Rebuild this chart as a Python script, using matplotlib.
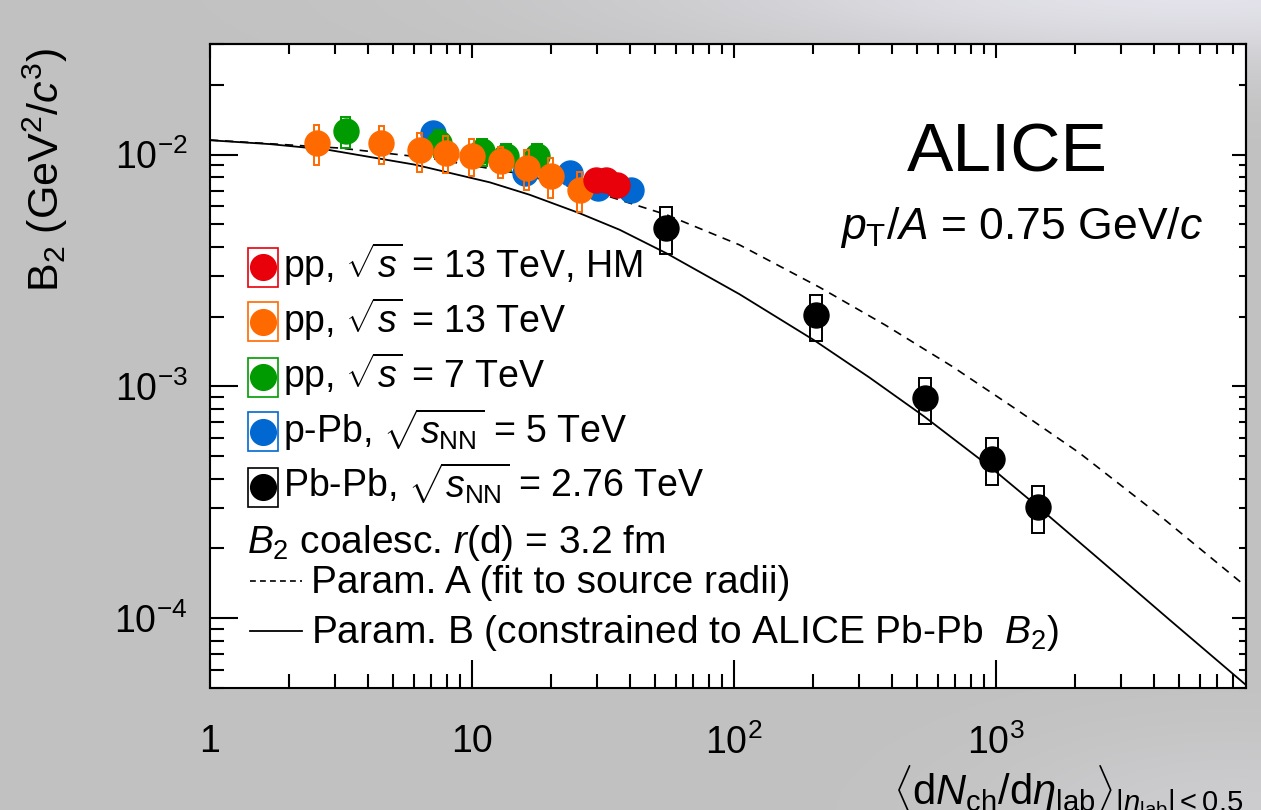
import numpy as np
import matplotlib
matplotlib.use("Agg")
import matplotlib.pyplot as plt
from matplotlib.patches import Rectangle
from matplotlib import font_manager
from matplotlib.ticker import FixedLocator, FixedFormatter, NullFormatter

# ---------------- data ----------------
# Pb-Pb, sqrt(s_NN) = 2.76 TeV
pbpb_x = [55.0, 205.0, 537.0, 966.0, 1447.0]
pbpb_y = [4.83e-3, 2.03e-3, 8.87e-4, 4.88e-4, 3.02e-4]
pbpb_sys = [1.10e-3, 0.46e-3, 2.0e-4, 1.12e-4, 0.70e-4]

# pp, sqrt(s) = 13 TeV
pp13_x = [2.55, 4.50, 6.32, 7.95, 10.0, 12.9, 16.2, 20.0, 25.8]
pp13_y = [1.124e-2, 1.124e-2, 1.044e-2, 1.017e-2, 0.990e-2, 0.935e-2, 0.876e-2, 0.811e-2, 0.703e-2]
pp13_sys = [0.22e-2, 0.21e-2, 0.20e-2, 0.18e-2, 0.18e-2, 0.14e-2, 0.17e-2, 0.16e-2, 0.135e-2]

# pp, sqrt(s) = 7 TeV
pp7_x = [3.29, 7.5, 10.9, 13.5, 17.7]
pp7_y = [1.261e-2, 1.124e-2, 1.033e-2, 0.983e-2, 0.983e-2]
pp7_sys = [0.19e-2, 0.15e-2, 0.14e-2, 0.13e-2, 0.13e-2]

# p-Pb, sqrt(s_NN) = 5 TeV
ppb_x = [7.08, 15.9, 23.6, 30.2, 40.6]
ppb_y = [1.242e-2, 0.836e-2, 0.833e-2, 0.72e-2, 0.706e-2]
ppb_sys = [0.12e-2, 0.08e-2, 0.08e-2, 0.07e-2, 0.07e-2]

# pp, sqrt(s) = 13 TeV, high multiplicity
pphm_x = [29.8, 32.5, 35.7]
pphm_y = [0.779e-2, 0.779e-2, 0.742e-2]
pphm_sys = [0.05e-2, 0.05e-2, 0.05e-2]

# coalescence curves, r(d) = 3.2 fm
paramA_x = [1.0, 3.13, 6.90, 15.2, 32.6, 55.3, 104.9, 211.7, 377.7, 680.1, 1182.0,
            2074.0, 4186.0, 9000.0]
paramA_y = [1.156e-2, 1.067e-2, 0.966e-2, 0.827e-2, 0.665e-2, 0.550e-2, 4.08e-3, 2.68e-3,
            1.84e-3, 1.22e-3, 8.03e-4, 5.18e-4, 2.79e-4, 1.37e-4]
paramB_x = [1.0, 1.69, 2.79, 6.05, 11.7, 16.6, 25.7, 36.6, 55.3, 104.9, 202.6, 328.2,
            531.9, 957.8, 1434.0, 2473.0, 4570.0, 9000.0]
paramB_y = [1.153e-2, 1.110e-2, 1.051e-2, 0.905e-2, 0.759e-2, 0.671e-2, 0.559e-2, 0.474e-2,
            0.375e-2, 2.50e-3, 1.58e-3, 1.094e-3, 7.42e-4, 4.46e-4, 3.05e-4, 1.80e-4,
            9.90e-5, 5.15e-5]

xtick_vals = [1, 10, 100, 1000]
xtick_labels = ["1", "10", "$10^{2}$", "$10^{3}$"]
ytick_vals = [1e-4, 1e-3, 1e-2]
ytick_labels = ["$10^{-4}$", "$10^{-3}$", "$10^{-2}$"]

RED, ORANGE, GREEN, BLUE, BLACK = "#e8000b", "#ff6a00", "#009b00", "#0068d0", "#000000"

# ---------------- fonts ----------------
available = {f.name for f in font_manager.fontManager.ttflist}
SANS = "Liberation Sans" if "Liberation Sans" in available else "DejaVu Sans"
NARROW = "Liberation Sans Narrow" if "Liberation Sans Narrow" in available else SANS
plt.rcParams["font.family"] = [SANS, "DejaVu Sans"]
plt.rcParams["mathtext.fontset"] = "custom"
plt.rcParams["mathtext.rm"] = SANS
plt.rcParams["mathtext.it"] = SANS + ":italic"
plt.rcParams["mathtext.bf"] = SANS + ":bold"
plt.rcParams["mathtext.sf"] = SANS

W, H = 1261, 810
fig = plt.figure(figsize=(W / 100, H / 100), dpi=100)

# slide background: grey with a pale lavender glow toward the top right
bg = fig.add_axes([0, 0, 1, 1], zorder=-10)
gx, gy = np.meshgrid(np.linspace(0, 1, 252), np.linspace(1, 0, 162))
glow = np.exp(-(((gx - 0.95) / 0.42) ** 2 + ((gy - 1.02) / 0.10) ** 2))
glow2 = 0.35 * np.exp(-(((gx - 0.98) / 0.20) ** 2 + ((gy + 0.02) / 0.12) ** 2))
base = np.array([0.757, 0.757, 0.757])
light = np.array([0.895, 0.893, 0.925])
w = np.clip(glow + glow2, 0, 1)[..., None]
img = base * (1 - w) + light * w
bg.imshow(img, aspect="auto", extent=[0, 1, 0, 1], interpolation="bicubic")
bg.set_axis_off()

L, R, T, B = 210, 1246, 44, 688
ax = fig.add_axes([L / W, 1 - B / H, (R - L) / W, (B - T) / H])
ax.set_xscale("log")
ax.set_yscale("log")
ax.set_xlim(1, 9000)
ax.set_ylim(5e-5, 3e-2)
ax.set_facecolor("white")
for s in ax.spines.values():
    s.set_linewidth(1.5)

# ---------------- curves ----------------
ax.plot(paramA_x, paramA_y, color="black", lw=1.2, ls=(0, (5, 4)), zorder=2)
ax.plot(paramB_x, paramB_y, color="black", lw=1.3, ls="-", zorder=2)


def draw_series(xs, ys, sys, color, half_w, z):
    f = 10 ** (half_w / 262.3)
    for x, y, e in zip(xs, ys, sys):
        ax.add_patch(Rectangle((x / f, y - e), x * f - x / f, 2 * e, fill=False,
                               edgecolor=color, lw=1.4, zorder=z))
    ax.plot(xs, ys, "o", ms=18, color=color, mec=color, zorder=z + 0.5)


draw_series(pbpb_x, pbpb_y, pbpb_sys, BLACK, 6.0, 3)
draw_series(ppb_x, ppb_y, ppb_sys, BLUE, 3.0, 4)
draw_series(pp7_x, pp7_y, pp7_sys, GREEN, 5.0, 5)
draw_series(pp13_x, pp13_y, pp13_sys, ORANGE, 2.5, 6)
draw_series(pphm_x, pphm_y, pphm_sys, RED, 3.0, 7)

# ---------------- axes / ticks ----------------
minor_x = [m * 10 ** d for d in range(0, 4) for m in range(2, 10) if m * 10 ** d < 9000]
minor_y = [m * 10 ** d for d in range(-5, -1) for m in range(2, 10) if 5e-5 <= m * 10 ** d <= 3e-2]
ax.xaxis.set_major_locator(FixedLocator(xtick_vals))
ax.xaxis.set_major_formatter(FixedFormatter(xtick_labels))
ax.xaxis.set_minor_locator(FixedLocator(minor_x))
ax.xaxis.set_minor_formatter(NullFormatter())
ax.yaxis.set_major_locator(FixedLocator(ytick_vals))
ax.yaxis.set_major_formatter(FixedFormatter(ytick_labels))
ax.yaxis.set_minor_locator(FixedLocator(minor_y))
ax.yaxis.set_minor_formatter(NullFormatter())
ax.tick_params(which="both", direction="in", width=1.5, labelsize=27, top=False, right=False)
ax.tick_params(which="major", length=20)
ax.tick_params(which="minor", length=10)
ax.tick_params(axis="x", which="major", pad=26)
ax.tick_params(axis="y", which="major", pad=16)

secx = ax.secondary_xaxis("top")
secx.xaxis.set_major_locator(FixedLocator(xtick_vals))
secx.xaxis.set_minor_locator(FixedLocator(minor_x))
secx.xaxis.set_major_formatter(NullFormatter())
secx.xaxis.set_minor_formatter(NullFormatter())
secx.tick_params(which="both", direction="in", width=1.5)
secx.tick_params(which="major", length=10)
secx.tick_params(which="minor", length=7)
secx.spines["top"].set_linewidth(1.5)

secy = ax.secondary_yaxis("right")
secy.yaxis.set_major_locator(FixedLocator(ytick_vals))
secy.yaxis.set_minor_locator(FixedLocator(minor_y))
secy.yaxis.set_major_formatter(NullFormatter())
secy.yaxis.set_minor_formatter(NullFormatter())
secy.tick_params(which="both", direction="in", width=1.5)
secy.tick_params(which="major", length=10)
secy.tick_params(which="minor", length=5)
secy.spines["right"].set_linewidth(1.5)

# axis titles
fig.text(45 / W, 1 - 170 / H, r"B$_{2}$ (GeV$^{2}$/$c^{3}$)", rotation=90,
         ha="center", va="center", fontsize=31)
fig.text(893 / W, 1 - 805 / H,
         r"$\langle$d$N_{\rm ch}$/d$\eta_{\rm lab}\rangle_{|\eta_{\rm lab}|<0.5}$",
         ha="left", va="baseline", fontsize=30)

# labels inside the frame
def afx(px):
    return (px - L) / (R - L)


def afy(py):
    return (B - py) / (B - T)


ax.text(afx(1007), afy(153), "ALICE", ha="center", va="center", fontsize=50,
        transform=ax.transAxes)
ax.text(afx(840), afy(239), r"$p_{\rm T}$/$A$ = 0.75 GeV/$c$", ha="left",
        va="baseline", fontsize=32, transform=ax.transAxes)

# ---------------- legend ----------------
entries = [
    (RED, r"pp, $\sqrt{s}$ = 13 TeV, HM"),
    (ORANGE, r"pp, $\sqrt{s}$ = 13 TeV"),
    (GREEN, r"pp, $\sqrt{s}$ = 7 TeV"),
    (BLUE, r"p-Pb, $\sqrt{s_{\rm NN}}$ = 5 TeV"),
    (BLACK, r"Pb-Pb, $\sqrt{s_{\rm NN}}$ = 2.76 TeV"),
]
row_c = [267, 321.7, 377, 431.7, 487]
for (col, label), yc in zip(entries, row_c):
    ax.add_patch(Rectangle((afx(248), afy(yc + 19.5)), afx(278) - afx(248),
                           afy(yc - 19.5) - afy(yc + 19.5), fill=False,
                           edgecolor=col, lw=1.2, transform=ax.transAxes, zorder=8))
    ax.plot([afx(263)], [afy(yc)], "o", ms=18.5, color=col, transform=ax.transAxes,
            zorder=9, clip_on=False)
    ax.text(afx(283), afy(yc + 11), label, ha="left", va="baseline", fontsize=27,
            transform=ax.transAxes, zorder=9)

note_font = [NARROW, "DejaVu Sans"]
ax.text(afx(247), afy(553), r"$B_{2}$ coalesc. $r$(d) = 3.2 fm", ha="left",
        va="baseline", fontsize=28, family=note_font, transform=ax.transAxes)
ax.plot([afx(250), afx(302)], [afy(581), afy(581)], color="black", lw=1.2,
        ls=(0, (3.5, 2.5)), transform=ax.transAxes)
ax.text(afx(311), afy(593), "Param. A (fit to source radii)", ha="left", va="baseline",
        fontsize=28, family=note_font, transform=ax.transAxes)
ax.plot([afx(250), afx(302)], [afy(631), afy(631)], color="black", lw=1.3,
        transform=ax.transAxes)
ax.text(afx(311), afy(643), r"Param. B (constrained to ALICE Pb-Pb  $B_{2}$)", ha="left",
        va="baseline", fontsize=28, family=note_font, transform=ax.transAxes)

fig.savefig("out.png", dpi=100)
